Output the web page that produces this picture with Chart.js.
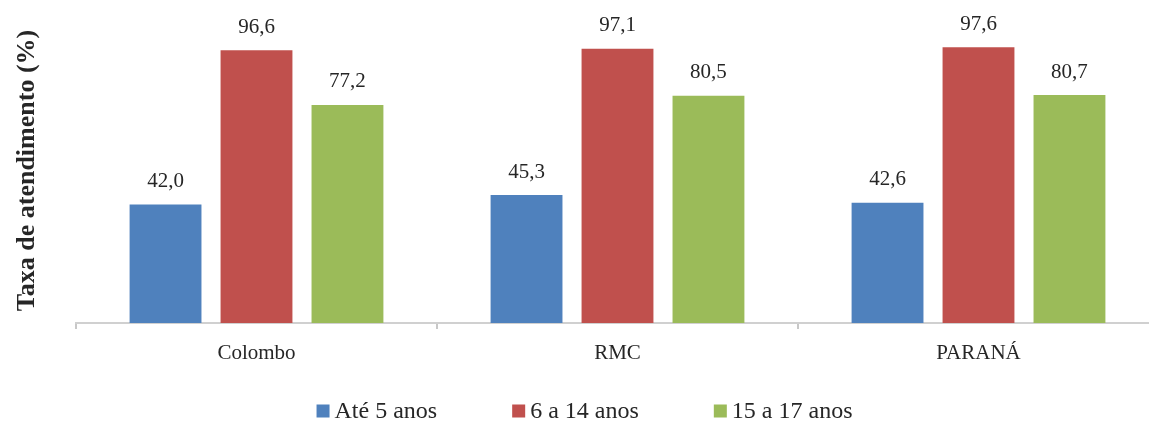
<!DOCTYPE html>
<html lang="pt-BR">
<head>
<meta charset="utf-8">
<title>Taxa de atendimento por faixa etária</title>
<script src="https://cdn.jsdelivr.net/npm/chart.js@4/dist/chart.umd.min.js"></script>
<style>
  html, body { margin: 0; padding: 0; background: #ffffff; overflow: hidden; }
  #wrap { position: relative; width: 1159px; height: 423px; }
</style>
</head>
<body>
<div id="wrap"><canvas id="chart"></canvas></div>
<script>
// Regions compared
const categories = ['Colombo', 'RMC', 'PARANÁ'];

// Attendance rate (%) by age group
const ate5 = [42.0, 45.3, 42.6];
const de6a14 = [96.6, 97.1, 97.6];
const de15a17 = [77.2, 80.5, 80.7];

const seriesNames = ['Até 5 anos', '6 a 14 anos', '15 a 17 anos'];
const seriesColors = ['#4F81BD', '#C0504D', '#9BBB59'];

const serif = "'Liberation Serif', 'Times New Roman', serif";
const textColor = '#262626';
Chart.defaults.font.family = serif;
Chart.defaults.color = textColor;

// Writes each bar's value above it, with a decimal comma
const valueLabels = {
  id: 'valueLabels',
  afterDatasetsDraw(chart) {
    const ctx = chart.ctx;
    ctx.save();
    ctx.font = '21px ' + serif;
    ctx.fillStyle = textColor;
    ctx.textAlign = 'center';
    ctx.textBaseline = 'middle';
    chart.data.datasets.forEach((ds, i) => {
      const meta = chart.getDatasetMeta(i);
      meta.data.forEach((bar, j) => {
        const txt = ds.data[j].toFixed(1).replace('.', ',');
        ctx.fillText(txt, bar.x, bar.y - 23);
      });
    });
    ctx.restore();
  }
};

// Single-row legend under the axis labels, square swatches, wide spacing
const bottomLegend = {
  id: 'bottomLegend',
  afterDraw(chart, args, opts) {
    const ctx = chart.ctx;
    ctx.save();
    ctx.font = opts.fontSize + 'px ' + serif;
    ctx.textBaseline = 'middle';
    ctx.textAlign = 'left';
    const items = chart.data.datasets.map(ds => ({
      text: ds.label,
      color: ds.backgroundColor,
      w: opts.box + opts.textGap + ctx.measureText(ds.label).width
    }));
    const total = items.reduce((s, it) => s + it.w, 0) + opts.itemGap * (items.length - 1);
    let x = opts.centerX - total / 2;
    const y = opts.y;
    items.forEach(it => {
      ctx.fillStyle = it.color;
      ctx.fillRect(x, y - opts.box / 2, opts.box, opts.box);
      ctx.fillStyle = textColor;
      ctx.fillText(it.text, x + opts.box + opts.textGap, y + 1);
      x += it.w + opts.itemGap;
    });
    ctx.restore();
  }
};

new Chart(document.getElementById('chart'), {
  type: 'bar',
  data: {
    labels: categories,
    datasets: [ate5, de6a14, de15a17].map((values, i) => ({
      label: seriesNames[i],
      data: values,
      backgroundColor: seriesColors[i],
      borderWidth: 0,
      categoryPercentage: 0.756,
      barPercentage: 0.79
    }))
  },
  options: {
    responsive: true,
    maintainAspectRatio: false,
    animation: false,
    layout: { padding: { top: 18, bottom: 50, left: 0, right: 0 } },
    plugins: {
      tooltip: { enabled: false },
      legend: { display: false },
      bottomLegend: { centerX: 584.5, y: 411, box: 13, textGap: 5, itemGap: 75, fontSize: 24 }
    },
    scales: {
      x: {
        afterFit: (scale) => { scale.height = 50; },
        grid: {
          display: true,
          drawOnChartArea: false,
          drawTicks: true,
          tickLength: 6,
          color: '#c8c8c8',
          lineWidth: 2
        },
        border: { display: true, color: '#d0d0d0', width: 2 },
        ticks: { padding: 12, color: textColor, font: { size: 21, family: serif } }
      },
      y: {
        min: 0,
        max: 108,
        afterFit: (scale) => { scale.width = 76; },
        grid: { display: false },
        border: { display: false },
        ticks: { display: false },
        title: {
          display: true,
          text: 'Taxa de atendimento (%)',
          color: textColor,
          padding: { top: 12, bottom: 0 },
          font: { size: 26, weight: 'bold', family: serif }
        }
      }
    }
  },
  plugins: [valueLabels, bottomLegend]
});
</script>
</body>
</html>
